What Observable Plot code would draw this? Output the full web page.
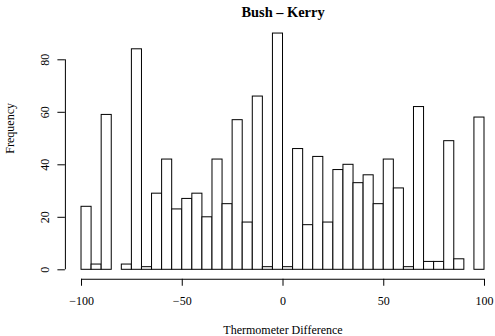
<!DOCTYPE html>
<html>
<head>
<meta charset="utf-8">
<script src="https://cdn.jsdelivr.net/npm/d3@7"></script>
<script src="https://cdn.jsdelivr.net/npm/@observablehq/plot@0.6"></script>
<style>
  html, body { margin: 0; padding: 0; background: #fff; }
</style>
</head>
<body>
<div id="chart"></div>
<script>
const binStarts = [-100,-95,-90,-85,-80,-75,-70,-65,-60,-55,-50,-45,-40,-35,-30,-25,-20,-15,-10,-5,
                   0,5,10,15,20,25,30,35,40,45,50,55,60,65,70,75,80,85,90,95];
const binWidth = 5;
const counts = [24,2,59,0,2,84,1,29,42,23,27,29,20,42,25,57,18,66,1,90,
                1,46,17,43,18,38,40,33,36,25,42,31,1,62,3,3,49,4,0,58];
const xTicks = [-100,-50,0,50,100];
const yTicks = [0,20,40,60,80];
const title = "Bush – Kerry";
const xLabel = "Thermometer Difference";
const yLabel = "Frequency";

const bins = binStarts.map((s, i) => ({x1: s, x2: s + binWidth, count: counts[i]}));

const chart = Plot.plot({
  width: 495,
  height: 336,
  marginLeft: 64.9,
  marginRight: 0,
  marginTop: 23.6,
  marginBottom: 57.25,
  style: {fontFamily: "Liberation Serif", fontSize: "12px", background: "#fff", color: "#000"},
  x: {domain: [-108, 105.46]},
  y: {domain: [-3.6, 93.6]},
  marks: [
    Plot.rectY(bins, {x1: "x1", x2: "x2", y1: 0, y2: "count", fill: "white", stroke: "black", strokeWidth: 1, inset: 0}),
    Plot.ruleY([-3.6], {x1: xTicks[0], x2: xTicks[xTicks.length - 1], stroke: "black"}),
    Plot.ruleX([-108], {y1: yTicks[0], y2: yTicks[yTicks.length - 1], stroke: "black"}),
    Plot.axisX({ticks: xTicks, tickSize: 7, tickPadding: 10, label: null, stroke: "black", fill: "black"}),
    Plot.axisY({ticks: yTicks, tickSize: 7.5, tickPadding: 9, tickRotate: -90, label: null, stroke: "black", fill: "black"}),
    Plot.text([title], {x: 0, frameAnchor: "top", dy: -11.6, fontWeight: "bold", fontSize: 14.4, lineAnchor: "middle", fill: "black"}),
    Plot.text([xLabel], {x: 0, frameAnchor: "bottom", dy: 51, lineAnchor: "middle", fill: "black"}),
    Plot.text([yLabel], {frameAnchor: "left", dx: -55, dy: 2, rotate: -90, lineAnchor: "middle", fill: "black"})
  ]
});
document.getElementById("chart").appendChild(chart);
</script>
</body>
</html>
